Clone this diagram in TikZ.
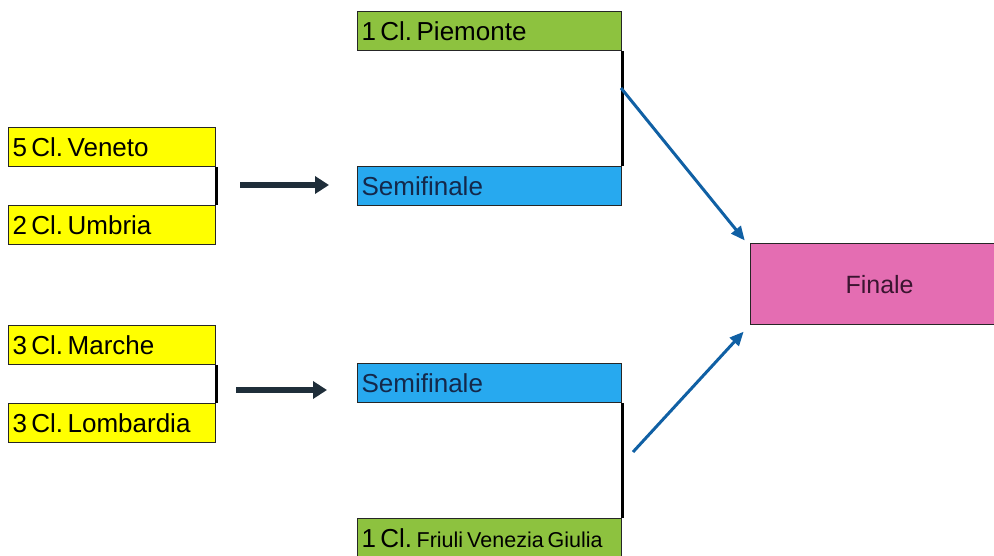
\documentclass[tikz,border=0pt]{standalone}
\usepackage{fontspec}
\setmainfont{Liberation Sans}
\usetikzlibrary{arrows.meta,calc}
\frenchspacing
\newcommand{\teamfont}{\fontsize{26}{26}\selectfont}
\newcommand{\tightsp}{\spaceskip=4.5pt\relax\xspaceskip=4.5pt\relax}
\newcommand{\smallteam}{\fontsize{21.5}{21.5}\selectfont\spaceskip=4pt\relax}
\definecolor{yel}{HTML}{FFFF00}
\definecolor{grn}{HTML}{8DC23F}
\definecolor{blu}{HTML}{27A9EF}
\definecolor{pnk}{HTML}{E46DB2}
\definecolor{darr}{HTML}{1F2E3A}
\definecolor{barr}{HTML}{1060A4}
\definecolor{semtxt}{HTML}{14284A}
\definecolor{fintxt}{HTML}{3A1530}
\tikzset{
  teambox/.style={draw=black!85, line width=1.2pt, minimum height=39pt, anchor=north west,
    inner xsep=4pt, inner ysep=0pt, text width=#1, align=left,
    font=\teamfont, execute at begin node=\tightsp},
  ybox/.style={teambox=199pt, fill=yel, minimum width=207pt},
  gbox/.style={teambox=256pt, fill=grn, minimum width=264pt},
  bbox/.style={teambox=256pt, fill=blu, minimum width=264pt, text=semtxt},
  bracket/.style={line width=3.2pt, black},
  darrow/.style={line width=6.5pt, darr, -{Triangle[length=14pt,width=17pt]}},
  barrow/.style={line width=3pt, barr, -{Triangle[length=14pt,width=12pt]}},
}
\begin{document}
\begin{tikzpicture}[x=1pt,y=-1pt]
\useasboundingbox (0,0) rectangle (994,555);
% left teams
\node[ybox] (ven) at (8,127) {5\,Cl. Veneto};
\node[ybox] (umb) at (8,205) {2\,Cl. Umbria};
\node[ybox] (mar) at (8,325) {3\,Cl. Marche};
\node[ybox] (lom) at (8,403) {3\,Cl. Lombardia};
% middle column
\node[gbox] (pie) at (357,11) {1\,Cl. Piemonte};
\node[bbox] (semA) at (357,166) {Semifinale};
\node[bbox] (semB) at (357,363) {Semifinale};
\node[gbox, minimum height=40pt] (fri) at (357,518) {1\,Cl. {\smallteam Friuli Venezia Giulia}};
% finale
\node[draw=black!85, line width=1.2pt, fill=pnk, anchor=north west, minimum width=250pt,
  minimum height=81pt, text=fintxt, font=\fontsize{25}{25}\selectfont] (fin) at (750,243) {\hspace{8pt}Finale};
% brackets
\draw[bracket] (ven.south east) -- (umb.north east);
\draw[bracket] (mar.south east) -- (lom.north east);
\draw[bracket] (pie.south east) -- (semA.north east);
\draw[bracket] (semB.south east) -- (fri.north east);
% coordinates for arrow ends
\coordinate (a1s) at (240,185);
\coordinate (a2s) at (236,390);
\coordinate (b1s) at (621,88);
\coordinate (b2s) at (633,452);
\draw[darrow, shorten >=28pt] (a1s) -- (a1s -| semA.west);
\draw[darrow, shorten >=30pt] (a2s) -- (a2s -| semB.west);
\draw[barrow, shorten >=2pt] (b1s) -- ($(fin.north west)+(-4,-1)$);
\draw[barrow, shorten >=2pt] (b2s) -- ($(fin.south west)+(-5,5)$);
\end{tikzpicture}
\end{document}
